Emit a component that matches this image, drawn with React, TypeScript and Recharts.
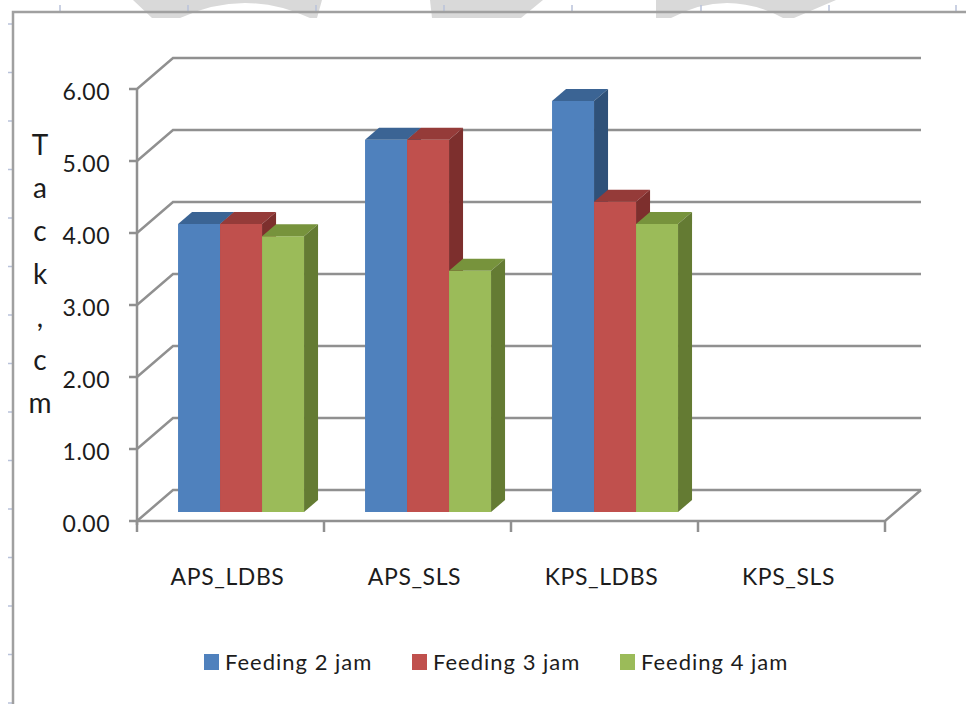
import React from "react";
import { BarChart, Bar, XAxis, YAxis, CartesianGrid, Legend, Customized } from "recharts";

const categories = ["APS_LDBS", "APS_SLS", "KPS_LDBS", "KPS_SLS"];
const feeding2 = [4.0, 5.17, 5.71, null];
const feeding3 = [4.0, 5.17, 4.31, null];
const feeding4 = [3.83, 3.35, 4.0, null];
const seriesNames = ["Feeding 2 jam", "Feeding 3 jam", "Feeding 4 jam"];
const yTicks = [0, 1, 2, 3, 4, 5, 6];
const axisTitle = ["T", "a", "c", "k", ",", "c", "m"];

const data = categories.map((name, i) => ({
  name,
  f2: feeding2[i],
  f3: feeding3[i],
  f4: feeding4[i],
}));

// layout of the fake-3D box (plot area = plane of the bar fronts)
const W = 966;
const H = 704;
const PLOT_LEFT = 147;
const PLOT_TOP = 80;
const PLOT_RIGHT = 895;
const PLOT_BOTTOM = 512;
const Y_AXIS_W = 60;
const X_AXIS_H = 30;
const FRONT = { dx: -10, dy: 9 };
const BACK = { dx: 26, dy: -22 };
const DEPTH = { dx: 14, dy: -12 };

const FONT = "Lato, 'Open Sans', sans-serif";
const TEXT = "#1c1c1c";
const GRID = "#909090";

const palette = [
  { front: "#4F81BD", top: "#3B6494", side: "#2F5179" },
  { front: "#C0504D", top: "#953B39", side: "#7D2F2D" },
  { front: "#9BBB59", top: "#77933C", side: "#647B33" },
];

const makeBox = (top: string, side: string) => (props: any) => {
  const { x, y, width, height, fill } = props;
  if (!height || height <= 0) return <g />;
  const { dx, dy } = DEPTH;
  return (
    <g>
      <rect x={x} y={y} width={width} height={height} fill={fill} />
      <path d={`M${x},${y}L${x + dx},${y + dy}H${x + width + dx}L${x + width},${y}Z`} fill={top} />
      <path
        d={`M${x + width},${y}L${x + width + dx},${y + dy}V${y + height + dy}L${x + width},${y + height}Z`}
        fill={side}
      />
    </g>
  );
};

// each gridline: tick + left wall diagonal + back wall line
const gridLine = (props: any) => {
  const { x1, x2, y1 } = props;
  const fx = x1 + FRONT.dx;
  const fy = y1 + FRONT.dy;
  const bx1 = x1 + BACK.dx;
  const bx2 = x2 + BACK.dx;
  const by = y1 + BACK.dy;
  const isFloor = Math.abs(y1 - PLOT_BOTTOM) < 0.5;
  const isTop = Math.abs(y1 - PLOT_TOP) < 0.5;
  const st = { stroke: GRID, strokeWidth: 2.5, fill: "none" };
  return (
    <g key={`grid-${y1}`}>
      <path d={`M${fx - 8},${fy}H${fx}L${bx1},${by}H${bx2}`} {...st} />
      {isFloor && <path d={`M${fx},${fy}H${x2 + FRONT.dx}L${bx2},${by}`} {...st} />}
      {isTop && <path d={`M${fx},${fy}V${PLOT_BOTTOM + FRONT.dy + 4}`} {...st} />}
    </g>
  );
};

const YTick = (props: any) => {
  const { y, payload } = props;
  return (
    <text
      x={PLOT_LEFT + FRONT.dx - 27}
      y={y + FRONT.dy + 2}
      textAnchor="end"
      dominantBaseline="central"
      fontFamily={FONT}
      fontSize={23}
      letterSpacing={0.5}
      fill={TEXT}
    >
      {Number(payload.value).toFixed(2)}
    </text>
  );
};

const XTick = (props: any) => {
  const { x, payload, index } = props;
  const band = (PLOT_RIGHT - PLOT_LEFT) / categories.length;
  const fx = x + FRONT.dx;
  const fy = PLOT_BOTTOM + FRONT.dy;
  const st = { stroke: GRID, strokeWidth: 2.5 };
  return (
    <g>
      <line x1={fx - band / 2} y1={fy} x2={fx - band / 2} y2={fy + 11} {...st} />
      {index === categories.length - 1 && (
        <line x1={fx + band / 2} y1={fy} x2={fx + band / 2} y2={fy + 11} {...st} />
      )}
      <text
        x={fx - 3}
        y={576}
        textAnchor="middle"
        dominantBaseline="central"
        fontFamily={FONT}
        fontSize={23}
        letterSpacing={0.6}
        fill={TEXT}
      >
        {payload.value}
      </text>
    </g>
  );
};

const AxisTitle = () => (
  <text x={40} y={155} textAnchor="middle" fontFamily={FONT} fontSize={28} fill={TEXT}>
    {axisTitle.map((ch, i) => (
      <tspan key={i} x={40} dy={i === 0 ? 0 : 43}>
        {ch}
      </tspan>
    ))}
  </text>
);

const LegendContent = (props: any) => {
  const items = props.payload || [];
  return (
    <div style={{ display: "flex", alignItems: "center", paddingLeft: 204, height: 26 }}>
      {items.map((it: any) => (
        <div key={it.value} style={{ display: "flex", alignItems: "center", width: 208 }}>
          <span style={{ width: 15, height: 16, background: it.color, marginRight: 6, display: "inline-block" }} />
          <span style={{ fontFamily: FONT, fontSize: 22, color: TEXT, letterSpacing: 1, lineHeight: 1 }}>
            {it.value}
          </span>
        </div>
      ))}
    </div>
  );
};

// page border, ruler marks and the faded shapes along the top edge
const PageFrame = () => {
  const topMarks = [60, 188, 316, 444, 572, 701, 829, 956];
  const leftMarks = Array.from({ length: 15 }, (_, k) => 24 + k * 48.5);
  return (
    <g>
      <path d="M133,0L152,18H180Q245,-12 310,18H317L322,0Z" fill="#d9d9d9" />
      <path d="M430,0H543L521,18H432Z" fill="#d9d9d9" />
      <path d="M656,0H836L794,18H783Q727,-12 671,18H656Z" fill="#d9d9d9" />
      {topMarks.map((x) => (
        <line key={x} x1={x} y1={5} x2={x} y2={12} stroke="#b8c2da" strokeWidth={1.5} />
      ))}
      {leftMarks.map((y) => (
        <line key={y} x1={8} y1={y} x2={13} y2={y} stroke="#b8c2da" strokeWidth={1.5} />
      ))}
      <path d={`M13,${H}V12H${W}`} stroke="#a0a0a0" strokeWidth={2.5} fill="none" />
    </g>
  );
};

export default function App() {
  return (
    <div style={{ position: "absolute", left: 0, top: 0, width: W, height: H, background: "#fff" }}>
      <BarChart
        width={W}
        height={H}
        data={data}
        margin={{
          top: PLOT_TOP,
          left: PLOT_LEFT - Y_AXIS_W,
          right: W - PLOT_RIGHT,
          bottom: H - PLOT_BOTTOM - X_AXIS_H,
        }}
        barCategoryGap="16.6%"
        barGap={0}
      >
        <Customized component={PageFrame} />
        <CartesianGrid vertical={false} horizontal={gridLine} />
        <XAxis
          dataKey="name"
          height={X_AXIS_H}
          axisLine={false}
          tickLine={false}
          interval={0}
          tick={<XTick />}
        />
        <YAxis
          width={Y_AXIS_W}
          domain={[0, 6]}
          ticks={yTicks}
          axisLine={false}
          tickLine={false}
          tick={<YTick />}
          label={{ content: () => <AxisTitle /> }}
        />
        <Legend
          verticalAlign="middle"
          layout="horizontal"
          wrapperStyle={{ position: "absolute", top: 649, left: 0, width: W }}
          content={<LegendContent />}
        />
        <Bar dataKey="f2" name={seriesNames[0]} fill={palette[0].front} isAnimationActive={false}
          shape={makeBox(palette[0].top, palette[0].side)} />
        <Bar dataKey="f3" name={seriesNames[1]} fill={palette[1].front} isAnimationActive={false}
          shape={makeBox(palette[1].top, palette[1].side)} />
        <Bar dataKey="f4" name={seriesNames[2]} fill={palette[2].front} isAnimationActive={false}
          shape={makeBox(palette[2].top, palette[2].side)} />
      </BarChart>
    </div>
  );
}
